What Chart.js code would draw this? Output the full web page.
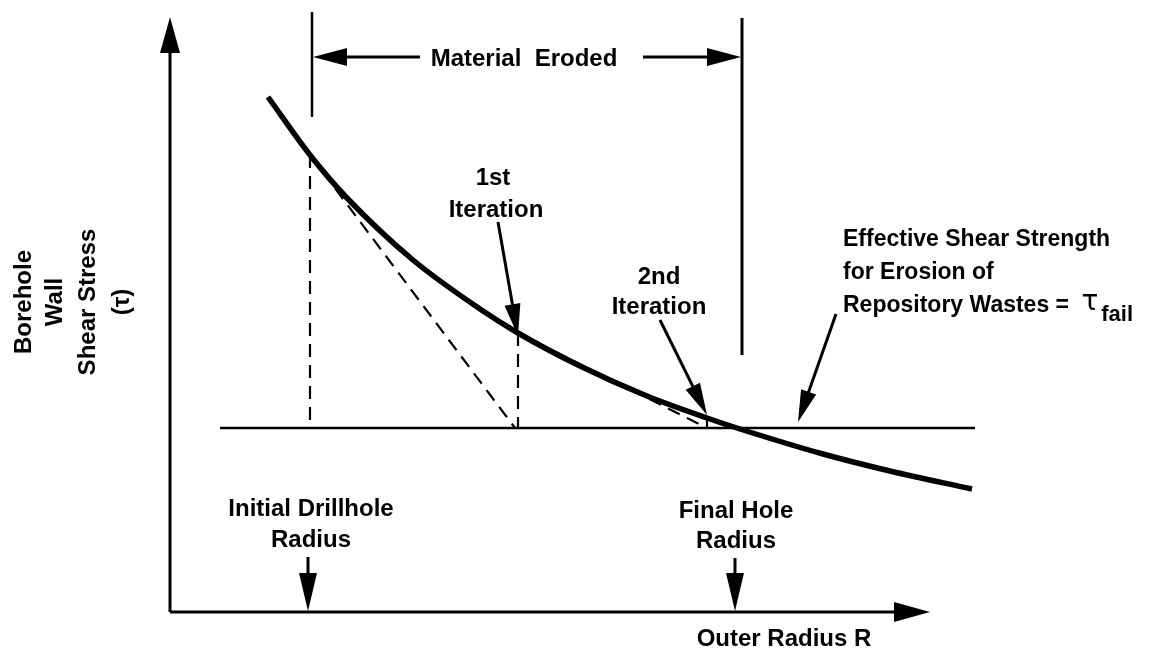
<!DOCTYPE html>
<html>
<head>
<meta charset="utf-8">
<script src="https://cdn.jsdelivr.net/npm/chart.js@4.4.1/dist/chart.umd.min.js"></script>
<style>
  html, body { margin: 0; padding: 0; background: #fff; }
  #wrap { width: 1161px; height: 650px; }
</style>
</head>
<body>
<div id="wrap"><canvas id="erosionChart" width="1161" height="650"></canvas></div>
<script>
// Borehole wall shear stress vs outer radius (schematic, arbitrary units)
const curveR   = [98, 140, 177, 243, 310, 348, 410, 477, 537, 570, 653, 720, 802];
const curveTau = [515, 457, 414, 352, 303, 279, 246, 216, 194, 183, 158, 141, 123];

const tauFail = 184;
const failLineR = [50, 805];

// radii of the iteration steps
const rInitial = 140, rIter1 = 348, rIter2 = 537, rFinal = 570;
const tauInitial = 457, tauIter1 = 279, tauIter2 = 194;
const tangentEndR = [345, 537];

// axes extent
const axisRMax = 760, axisTauMax = 595;

const ink = '#000';
const font = '"Liberation Sans", Arial, Helvetica, sans-serif';

function seg(r0, t0, r1, t1) {
  return [{ x: r0, y: t0 }, { x: r1, y: t1 }];
}

const dashed = {
  borderColor: ink, borderWidth: 2.2, borderDash: [13, 8],
  showLine: true, pointRadius: 0, tension: 0
};

const sketchPlugin = {
  id: 'sketch',
  afterDatasetsDraw(chart) {
    const ctx = chart.ctx;
    const xs = chart.scales.x, ys = chart.scales.y;
    const px = v => xs.getPixelForValue(v);
    const py = v => ys.getPixelForValue(v);

    function arrow(r0, t0, r1, t1, len, half, width) {
      const x0 = px(r0), y0 = py(t0), x1 = px(r1), y1 = py(t1);
      const d = Math.hypot(x1 - x0, y1 - y0);
      const ux = (x1 - x0) / d, uy = (y1 - y0) / d;
      const bx = x1 - ux * len, by = y1 - uy * len;
      ctx.save();
      ctx.strokeStyle = ink;
      ctx.fillStyle = ink;
      ctx.lineWidth = width;
      ctx.beginPath();
      ctx.moveTo(x0, y0);
      ctx.lineTo(bx + ux * 2, by + uy * 2);
      ctx.stroke();
      ctx.beginPath();
      ctx.moveTo(x1, y1);
      ctx.lineTo(bx - uy * half, by + ux * half);
      ctx.lineTo(bx + uy * half, by - ux * half);
      ctx.closePath();
      ctx.fill();
      ctx.restore();
    }

    function text(str, r, t, align, size) {
      ctx.save();
      ctx.fillStyle = ink;
      ctx.font = 'bold ' + (size || 24) + 'px ' + font;
      ctx.textAlign = align || 'center';
      ctx.textBaseline = 'alphabetic';
      ctx.fillText(str, px(r), py(t));
      ctx.restore();
    }

    // axes
    arrow(0, 0, 0, axisTauMax, 36, 10, 3);
    arrow(0, 0, axisRMax, 0, 36, 10, 3);

    // material eroded span
    arrow(250, 555, rInitial + 3, 555, 34, 9, 3);
    arrow(473, 555, rFinal + 1, 555, 34, 9, 3);
    text('Material  Eroded', 354, 546);

    // iteration pointers
    arrow(328, 390, rIter1, tauIter1 - 3, 32, 8, 3);
    text('1st', 323, 427);
    text('Iteration', 326, 395);

    arrow(490, 292, rIter2, tauIter2 + 3, 32, 8, 3);
    text('2nd', 489, 328);
    text('Iteration', 489, 298);

    // effective shear strength label
    arrow(666, 298, 628, tauFail + 6, 32, 8, 3);
    text('Effective Shear Strength', 673, 366, 'left', 23);
    text('for Erosion of', 673, 333, 'left', 23);
    ctx.save();
    ctx.font = 'bold 23px ' + font;
    const w = ctx.measureText('Repository Wastes = ').width;
    ctx.restore();
    text('Repository Wastes = ', 673, 300, 'left', 23);
    ctx.save();
    ctx.fillStyle = ink;
    ctx.font = '28px "DejaVu Sans", sans-serif';
    ctx.textAlign = 'left';
    const tx = px(673) + w + 6;
    ctx.fillText('\u03C4', tx, py(302));
    const tw = ctx.measureText('\u03C4').width;
    ctx.font = 'bold 22px ' + font;
    ctx.fillText('fail', tx + tw + 3, py(291));
    ctx.restore();

    // radius markers below the curve
    arrow(rInitial - 2, 55, rInitial - 2, 1, 38, 9, 3);
    text('Initial Drillhole', rInitial + 1, 96);
    text('Radius', rInitial + 1, 65);

    arrow(rFinal - 5, 54, rFinal - 5, 1, 38, 9, 3);
    text('Final Hole', rFinal - 4, 94);
    text('Radius', rFinal - 4, 64);

    text('Outer Radius R', 614, -34);

    // y axis title (rotated)
    const yTitle = ['Borehole', 'Wall', 'Shear Stress', '(\u03C4)'];
    const yTitleR = [-146, -115, -82, -48];
    ctx.save();
    ctx.fillStyle = ink;
    ctx.font = 'bold 24px ' + font;
    ctx.textAlign = 'center';
    ctx.textBaseline = 'middle';
    yTitle.forEach(function (s, i) {
      ctx.save();
      ctx.translate(px(yTitleR[i]), py(310));
      ctx.rotate(-Math.PI / 2);
      ctx.fillText(s, 0, 0);
      ctx.restore();
    });
    ctx.restore();
  }
};

const ctxEl = document.getElementById('erosionChart');
new Chart(ctxEl, {
  type: 'scatter',
  data: {
    datasets: [
      {
        data: curveR.map((r, i) => ({ x: r, y: curveTau[i] })),
        borderColor: ink, borderWidth: 5.5, showLine: true, pointRadius: 0,
        tension: 0.4, cubicInterpolationMode: 'monotone'
      },
      {
        data: seg(failLineR[0], tauFail, failLineR[1], tauFail),
        borderColor: ink, borderWidth: 2.5, showLine: true, pointRadius: 0
      },
      Object.assign({ data: seg(rInitial, tauInitial, rInitial, tauFail) }, dashed),
      Object.assign({ data: seg(rInitial, tauInitial, tangentEndR[0], tauFail) }, dashed),
      Object.assign({ data: seg(rIter1, tauIter1, rIter1, tauFail) }, dashed),
      Object.assign({ data: seg(rIter1, tauIter1, tangentEndR[1], tauFail) }, dashed),
      Object.assign({ data: seg(rIter2, tauIter2, rIter2, tauFail) }, dashed),
      {
        data: seg(rInitial + 2, 600, rInitial + 2, 495),
        borderColor: ink, borderWidth: 2.5, showLine: true, pointRadius: 0
      },
      {
        data: seg(rFinal + 2, 594, rFinal + 2, 257),
        borderColor: ink, borderWidth: 3, showLine: true, pointRadius: 0
      }
    ]
  },
  options: {
    responsive: false,
    animation: false,
    devicePixelRatio: 1,
    layout: { padding: 0 },
    scales: {
      x: { type: 'linear', min: -170, max: 991, display: false },
      y: { type: 'linear', min: -38, max: 612, display: false }
    },
    plugins: {
      legend: { display: false },
      tooltip: { enabled: false }
    }
  },
  plugins: [sketchPlugin]
});
</script>
</body>
</html>
